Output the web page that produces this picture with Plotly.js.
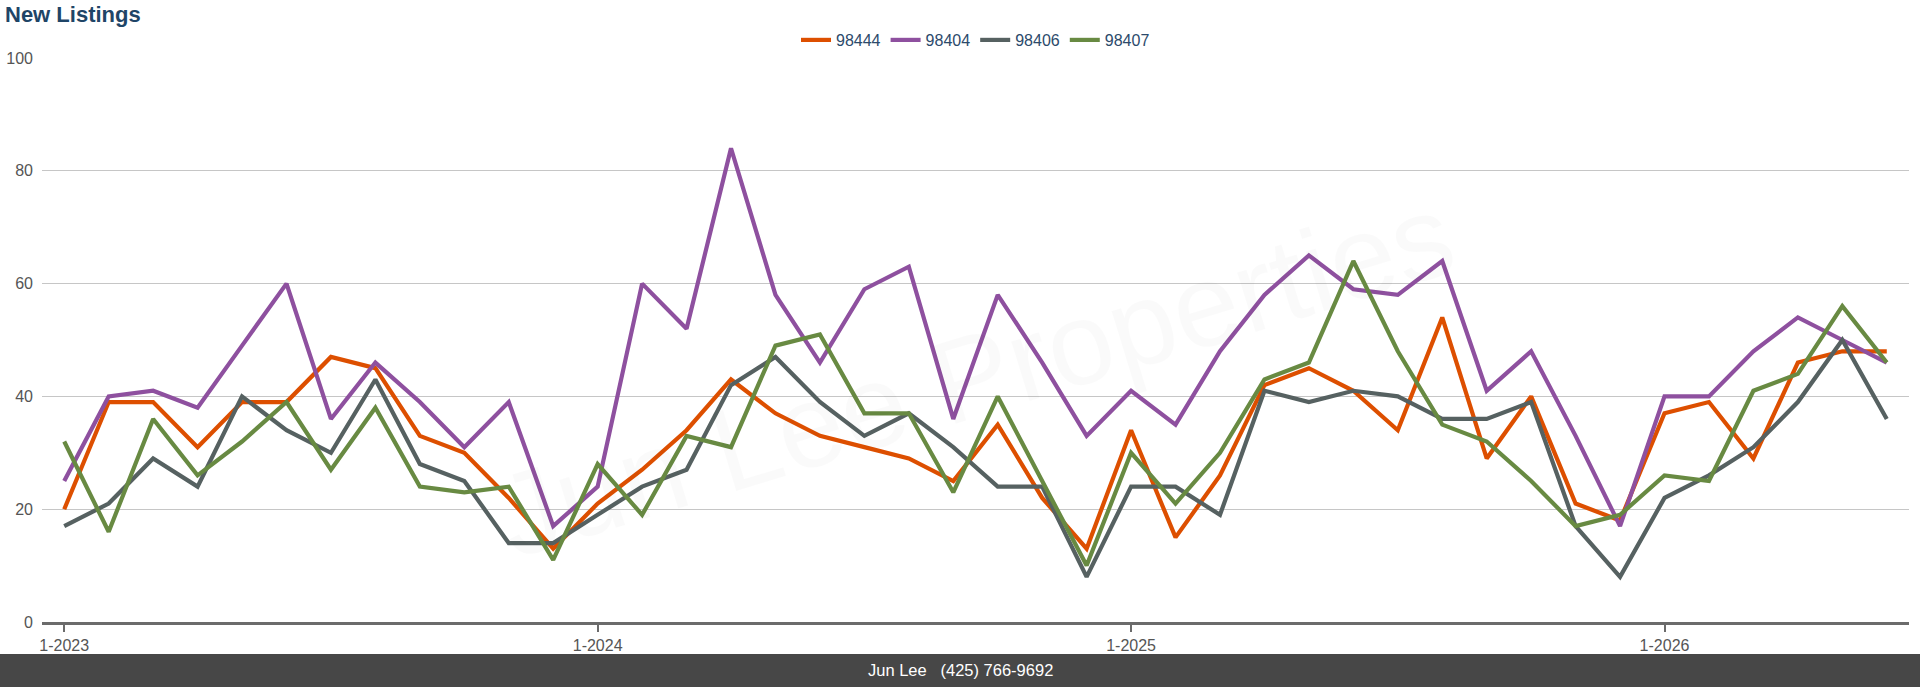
<!DOCTYPE html>
<html>
<head>
<meta charset="utf-8">
<script src="https://cdn.plot.ly/plotly-3.0.1.min.js"></script>
<style>
  html, body { margin: 0; padding: 0; background: #fff; }
  #chart { width: 1920px; height: 687px; }
</style>
</head>
<body>
<div id="chart"></div>
<script>
const months = [
  "1-2023","2-2023","3-2023","4-2023","5-2023","6-2023","7-2023","8-2023","9-2023","10-2023","11-2023","12-2023",
  "1-2024","2-2024","3-2024","4-2024","5-2024","6-2024","7-2024","8-2024","9-2024","10-2024","11-2024","12-2024",
  "1-2025","2-2025","3-2025","4-2025","5-2025","6-2025","7-2025","8-2025","9-2025","10-2025","11-2025","12-2025",
  "1-2026","2-2026","3-2026","4-2026","5-2026","6-2026"
];
const tickLabels = ["1-2023","1-2024","1-2025","1-2026"];

const seriesNames = ["98444","98404","98406","98407"];
const s98444 = [20,39,39,31,39,39,47,45,33,30,22,13, 21,27,34,43,37,33,31,29,25,35,22,13, 34,15,26,42,45,41,34,54,29,40,21,18, 37,39,29,46,48,48];
const s98404 = [25,40,41,38,49,60,36,46,39,31,39,17, 24,60,52,84,58,46,59,63,36,58,46,33, 41,35,48,58,65,59,58,64,41,48,33,17, 40,40,48,54,50,46];
const s98406 = [17,21,29,24,40,34,30,43,28,25,14,14, 19,24,27,42,47,39,33,37,31,24,24,8, 24,24,19,41,39,41,40,36,36,39,17,8, 22,26,31,39,50,36];
const s98407 = [32,16,36,26,32,39,27,38,24,23,24,11, 28,19,33,31,49,51,37,37,23,40,25,10, 30,21,30,43,46,64,48,35,32,25,17,19, 26,25,41,44,56,46];

const titleText = "New Listings";
const footerText = "Jun Lee\u00a0\u00a0\u00a0(425) 766-9692";
const watermarkText = "Jun Lee Properties";

const colors = ["#dd4f00", "#8e509f", "#566161", "#688a42"];
const values = [s98444, s98404, s98406, s98407];

const FONT = "Liberation Sans, Arial, Helvetica, sans-serif";

const traces = values.map((v, i) => ({
  type: "scatter",
  mode: "lines",
  name: seriesNames[i],
  x: months,
  y: v,
  line: { color: colors[i], width: 4.2 },
  hoverinfo: "x+y+name"
}));

const layout = {
  width: 1920,
  height: 687,
  paper_bgcolor: "#ffffff",
  plot_bgcolor: "#ffffff",
  margin: { l: 42, r: 11, t: 58, b: 65 },
  font: { family: FONT, color: "#555555", size: 16 },
  title: {
    text: "<b>" + titleText + "</b>",
    font: { family: FONT, size: 22, color: "#1f4567" },
    xref: "container", x: 5 / 1920, xanchor: "left",
    yref: "container", y: 1 - 14 / 687, yanchor: "middle"
  },
  showlegend: true,
  legend: {
    orientation: "h",
    x: 0.5, xanchor: "center",
    y: (622 - 40) / 564, yanchor: "middle",
    font: { family: FONT, size: 16, color: "#2c4a6b" },
    itemwidth: 30,
    tracegroupgap: 0,
    bgcolor: "rgba(0,0,0,0)"
  },
  xaxis: {
    type: "category",
    range: [-0.5, months.length - 0.5],
    tickmode: "array",
    tickvals: tickLabels,
    ticktext: tickLabels,
    ticks: "outside",
    ticklen: 7,
    tickwidth: 2,
    tickcolor: "#6b6b6b",
    showline: true,
    linecolor: "#6b6b6b",
    linewidth: 3,
    showgrid: false,
    zeroline: false,
    tickfont: { family: FONT, size: 16, color: "#555555" },
    fixedrange: true
  },
  yaxis: {
    range: [0, 100],
    tickmode: "linear",
    tick0: 0,
    dtick: 20,
    showgrid: true,
    gridcolor: "#c6c6c6",
    gridwidth: 1.3,
    zeroline: false,
    showline: false,
    ticks: "",
    ticklabelstandoff: 8,
    tickfont: { family: FONT, size: 16, color: "#555555" },
    fixedrange: true
  },
  shapes: [
    {
      type: "rect", xref: "paper", yref: "paper",
      x0: -0.05, x1: 1.05,
      y0: (622 - 690) / 564, y1: (622 - 654) / 564,
      fillcolor: "#474747", line: { width: 0 }, layer: "above"
    }
  ],
  annotations: [
    {
      text: watermarkText,
      xref: "paper", yref: "paper",
      x: (975 - 42) / 1867, y: (622 - 375) / 564,
      xanchor: "center", yanchor: "middle",
      showarrow: false,
      textangle: -17,
      font: { family: FONT, size: 118, color: "rgba(0,0,0,0.02)" }
    },
    {
      text: footerText,
      xref: "paper", yref: "paper",
      x: (960 - 42) / 1867, y: (622 - 670) / 564,
      xanchor: "center", yanchor: "middle",
      showarrow: false,
      font: { family: FONT, size: 16.5, color: "#ffffff" }
    }
  ]
};

Plotly.newPlot("chart", traces, layout, { displayModeBar: false, staticPlot: true });
</script>
</body>
</html>
